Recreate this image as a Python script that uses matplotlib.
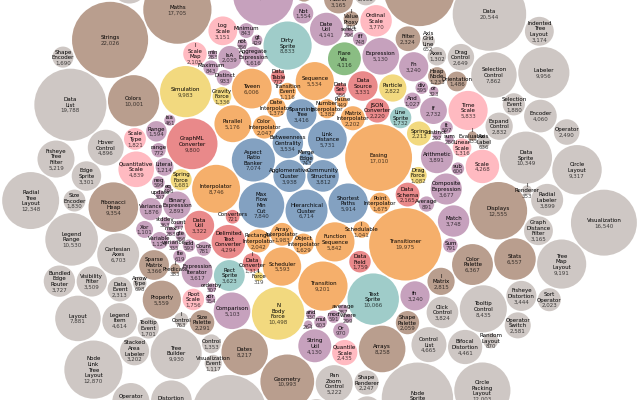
import math
import re

import matplotlib
matplotlib.use("Agg")
import matplotlib.pyplot as plt
from matplotlib.patches import Circle

ids = ["analytics.cluster.AgglomerativeCluster", "analytics.cluster.CommunityStructure", "analytics.cluster.HierarchicalCluster", "analytics.cluster.MergeEdge", "analytics.graph.BetweennessCentrality", "analytics.graph.LinkDistance", "analytics.graph.MaxFlowMinCut", "analytics.graph.ShortestPaths", "analytics.graph.SpanningTree", "analytics.optimization.AspectRatioBanker", "animate.Easing", "animate.FunctionSequence", "animate.interpolate.ArrayInterpolator", "animate.interpolate.ColorInterpolator", "animate.interpolate.DateInterpolator", "animate.interpolate.Interpolator", "animate.interpolate.MatrixInterpolator", "animate.interpolate.NumberInterpolator", "animate.interpolate.ObjectInterpolator", "animate.interpolate.PointInterpolator", "animate.interpolate.RectangleInterpolator", "animate.ISchedulable", "animate.Parallel", "animate.Pause", "animate.Scheduler", "animate.Sequence", "animate.Transition", "animate.Transitioner", "animate.TransitionEvent", "animate.Tween", "data.converters.Converters", "data.converters.DelimitedTextConverter", "data.converters.GraphMLConverter", "data.converters.IDataConverter", "data.converters.JSONConverter", "data.DataField", "data.DataSchema", "data.DataSet", "data.DataSource", "data.DataTable", "data.DataUtil", "display.DirtySprite", "display.LineSprite", "display.RectSprite", "display.TextSprite", "flex.FlareVis", "physics.DragForce", "physics.GravityForce", "physics.IForce", "physics.NBodyForce", "physics.Particle", "physics.Simulation", "physics.Spring", "physics.SpringForce", "query.AggregateExpression", "query.And", "query.Arithmetic", "query.Average", "query.BinaryExpression", "query.Comparison", "query.CompositeExpression", "query.Count", "query.DateUtil", "query.Distinct", "query.Expression", "query.ExpressionIterator", "query.Fn", "query.If", "query.IsA", "query.Literal", "query.Match", "query.Maximum", "query.methods.add", "query.methods.and", "query.methods.average", "query.methods.count", "query.methods.distinct", "query.methods.div", "query.methods.eq", "query.methods.fn", "query.methods.gt", "query.methods.gte", "query.methods.iff", "query.methods.isa", "query.methods.lt", "query.methods.lte", "query.methods.max", "query.methods.min", "query.methods.mod", "query.methods.mul", "query.methods.neq", "query.methods.not", "query.methods.or", "query.methods.orderby", "query.methods.range", "query.methods.select", "query.methods.stddev", "query.methods.sub", "query.methods.sum", "query.methods.update", "query.methods.variance", "query.methods.where", "query.methods.xor", "query.methods._", "query.Minimum", "query.Not", "query.Or", "query.Query", "query.Range", "query.StringUtil", "query.Sum", "query.Variable", "query.Variance", "query.Xor", "scale.IScaleMap", "scale.LinearScale", "scale.LogScale", "scale.OrdinalScale", "scale.QuantileScale", "scale.QuantitativeScale", "scale.RootScale", "scale.Scale", "scale.ScaleType", "scale.TimeScale", "util.Arrays", "util.Colors", "util.Dates", "util.Displays", "util.Filter", "util.Geometry", "util.heap.FibonacciHeap", "util.heap.HeapNode", "util.IEvaluable", "util.IPredicate", "util.IValueProxy", "util.math.DenseMatrix", "util.math.IMatrix", "util.math.SparseMatrix", "util.Maths", "util.Orientation", "util.palette.ColorPalette", "util.palette.Palette", "util.palette.ShapePalette", "util.palette.SizePalette", "util.Property", "util.Shapes", "util.Sort", "util.Stats", "util.Strings", "vis.axis.Axes", "vis.axis.Axis", "vis.axis.AxisGridLine", "vis.axis.AxisLabel", "vis.axis.CartesianAxes", "vis.controls.AnchorControl", "vis.controls.ClickControl", "vis.controls.Control", "vis.controls.ControlList", "vis.controls.DragControl", "vis.controls.ExpandControl", "vis.controls.HoverControl", "vis.controls.IControl", "vis.controls.PanZoomControl", "vis.controls.SelectionControl", "vis.controls.TooltipControl", "vis.data.Data", "vis.data.DataList", "vis.data.DataSprite", "vis.data.EdgeSprite", "vis.data.NodeSprite", "vis.data.render.ArrowType", "vis.data.render.EdgeRenderer", "vis.data.render.IRenderer", "vis.data.render.ShapeRenderer", "vis.data.ScaleBinding", "vis.data.Tree", "vis.data.TreeBuilder", "vis.events.DataEvent", "vis.events.SelectionEvent", "vis.events.TooltipEvent", "vis.events.VisualizationEvent", "vis.legend.Legend", "vis.legend.LegendItem", "vis.legend.LegendRange", "vis.operator.distortion.BifocalDistortion", "vis.operator.distortion.Distortion", "vis.operator.distortion.FisheyeDistortion", "vis.operator.encoder.ColorEncoder", "vis.operator.encoder.Encoder", "vis.operator.encoder.PropertyEncoder", "vis.operator.encoder.ShapeEncoder", "vis.operator.encoder.SizeEncoder", "vis.operator.filter.FisheyeTreeFilter", "vis.operator.filter.GraphDistanceFilter", "vis.operator.filter.VisibilityFilter", "vis.operator.IOperator", "vis.operator.label.Labeler", "vis.operator.label.RadialLabeler", "vis.operator.label.StackedAreaLabeler", "vis.operator.layout.AxisLayout", "vis.operator.layout.BundledEdgeRouter", "vis.operator.layout.CircleLayout", "vis.operator.layout.CirclePackingLayout", "vis.operator.layout.DendrogramLayout", "vis.operator.layout.ForceDirectedLayout", "vis.operator.layout.IcicleTreeLayout", "vis.operator.layout.IndentedTreeLayout", "vis.operator.layout.Layout", "vis.operator.layout.NodeLinkTreeLayout", "vis.operator.layout.PieLayout", "vis.operator.layout.RadialTreeLayout", "vis.operator.layout.RandomLayout", "vis.operator.layout.StackedAreaLayout", "vis.operator.layout.TreeMapLayout", "vis.operator.Operator", "vis.operator.OperatorList", "vis.operator.OperatorSequence", "vis.operator.OperatorSwitch", "vis.operator.SortOperator", "vis.Visualization"]

values = [3938, 3812, 6714, 743, 3534, 5731, 7840, 5914, 3416, 7074, 17010, 5842, 1983, 2047, 1375, 8746, 2202, 1382, 1629, 1675, 2042, 1041, 5176, 449, 5593, 5534, 9201, 19975, 1116, 6006, 721, 4294, 9800, 1314, 2220, 1759, 2165, 586, 3331, 772, 3322, 8833, 1732, 3623, 10066, 4116, 1082, 1336, 319, 10498, 2822, 9983, 2213, 1681, 1616, 1027, 3891, 891, 2893, 5103, 3677, 781, 4141, 933, 5130, 3617, 3240, 2732, 2039, 1214, 3748, 843, 593, 330, 287, 277, 292, 595, 198, 3240, 429, 386, 748, 461, 597, 619, 283, 283, 591, 603, 599, 386, 323, 307, 772, 296, 363, 600, 280, 307, 335, 299, 354, 264, 843, 1554, 970, 13896, 1594, 4130, 791, 1124, 1876, 1101, 2105, 1316, 3151, 3770, 2435, 4839, 1756, 4268, 1821, 5833, 8258, 10001, 8217, 12555, 2324, 10993, 9354, 1233, 335, 383, 874, 3165, 2815, 3366, 17705, 1486, 6367, 1229, 2059, 2291, 5559, 19118, 6887, 6557, 22026, 1302, 24593, 652, 636, 6703, 2138, 3824, 1353, 4665, 2649, 2832, 4896, 763, 5222, 7862, 8435, 20544, 19788, 10349, 3301, 19382, 698, 5569, 353, 2247, 11275, 7147, 9930, 2313, 1880, 1701, 1117, 20859, 4614, 10530, 4461, 6314, 3444, 3179, 4060, 4138, 1690, 1830, 5219, 3165, 3509, 1286, 9956, 3899, 3202, 6725, 3727, 9317, 12003, 4853, 8411, 4864, 3174, 7881, 12870, 2728, 12348, 870, 9121, 9191, 2490, 5248, 4190, 2581, 2023, 16540]

palette = ["#4e79a7", "#f28e2c", "#e15759", "#76b7b2", "#59a14f",
           "#edc949", "#af7aa1", "#ff9da7", "#9c755f", "#bab0ab"]

SIZE = 1150       # pack size of the 1152px square chart (1px margin)
PADDING = 2.964   # gap between circles, chart px
FS = 10           # label size, chart px


class Circ:
    def __init__(self, r):
        self.x = 0.0
        self.y = 0.0
        self.r = r


class Node:
    def __init__(self, c):
        self.c = c
        self.next = None
        self.prev = None


def place(b, a, c):
    dx = b.x - a.x
    dy = b.y - a.y
    d2 = dx * dx + dy * dy
    a2 = a.r + c.r
    a2 *= a2
    b2 = b.r + c.r
    b2 *= b2
    if a2 > b2:
        x = (d2 + b2 - a2) / (2 * d2)
        y = math.sqrt(max(0, b2 / d2 - x * x))
        c.x = b.x - x * dx - y * dy
        c.y = b.y - x * dy + y * dx
    else:
        x = (d2 + a2 - b2) / (2 * d2)
        y = math.sqrt(max(0, a2 / d2 - x * x))
        c.x = a.x + x * dx - y * dy
        c.y = a.y + x * dy + y * dx


def intersects(a, b):
    dr = a.r + b.r - 1e-6
    dx = b.x - a.x
    dy = b.y - a.y
    return dr > 0 and dr * dr > dx * dx + dy * dy


def score(node):
    a = node.c
    b = node.next.c
    ab = a.r + b.r
    dx = (a.x * b.r + b.x * a.r) / ab
    dy = (a.y * b.r + b.y * a.r) / ab
    return dx * dx + dy * dy


def encloses_not(a, b):
    dr = a.r - b.r
    dx = b.x - a.x
    dy = b.y - a.y
    return dr < 0 or dr * dr < dx * dx + dy * dy


def encloses_weak(a, b):
    dr = a.r - b.r + max(a.r, b.r, 1) * 1e-9
    dx = b.x - a.x
    dy = b.y - a.y
    return dr > 0 and dr * dr > dx * dx + dy * dy


def basis2(a, b):
    x21, y21, r21 = b.x - a.x, b.y - a.y, b.r - a.r
    l = math.sqrt(x21 * x21 + y21 * y21)
    e = Circ((l + a.r + b.r) / 2)
    e.x = (a.x + b.x + x21 / l * r21) / 2
    e.y = (a.y + b.y + y21 / l * r21) / 2
    return e


def basis3(a, b, c):
    x1, y1, r1 = a.x, a.y, a.r
    x2, y2, r2 = b.x, b.y, b.r
    x3, y3, r3 = c.x, c.y, c.r
    a2, a3 = x1 - x2, x1 - x3
    b2, b3 = y1 - y2, y1 - y3
    c2, c3 = r2 - r1, r3 - r1
    d1 = x1 * x1 + y1 * y1 - r1 * r1
    d2 = d1 - x2 * x2 - y2 * y2 + r2 * r2
    d3 = d1 - x3 * x3 - y3 * y3 + r3 * r3
    ab = a3 * b2 - a2 * b3
    xa = (b2 * d3 - b3 * d2) / (ab * 2) - x1
    xb = (b3 * c2 - b2 * c3) / ab
    ya = (a3 * d2 - a2 * d3) / (ab * 2) - y1
    yb = (a2 * c3 - a3 * c2) / ab
    A = xb * xb + yb * yb - 1
    B = 2 * (r1 + xa * xb + ya * yb)
    C = xa * xa + ya * ya - r1 * r1
    r = -((B + math.sqrt(B * B - 4 * A * C)) / (2 * A) if abs(A) > 1e-6 else C / B)
    e = Circ(r)
    e.x = x1 + xa + xb * r
    e.y = y1 + ya + yb * r
    return e


def basis(B):
    if len(B) == 1:
        e = Circ(B[0].r)
        e.x, e.y = B[0].x, B[0].y
        return e
    if len(B) == 2:
        return basis2(B[0], B[1])
    return basis3(B[0], B[1], B[2])


def extend_basis(B, p):
    if all(encloses_weak(p, b) for b in B):
        return [p]
    for i in range(len(B)):
        if encloses_not(p, B[i]) and all(encloses_weak(basis2(B[i], p), b) for b in B):
            return [B[i], p]
    for i in range(len(B) - 1):
        for j in range(i + 1, len(B)):
            if (encloses_not(basis2(B[i], B[j]), p)
                    and encloses_not(basis2(B[i], p), B[j])
                    and encloses_not(basis2(B[j], p), B[i])
                    and all(encloses_weak(basis3(B[i], B[j], p), b) for b in B)):
                return [B[i], B[j], p]
    raise RuntimeError("enclose failed")


def enclose(circles):
    i, B, e = 0, [], None
    while i < len(circles):
        p = circles[i]
        if e is not None and encloses_weak(e, p):
            i += 1
        else:
            B = extend_basis(B, p)
            e = basis(B)
            i = 0
    return e


def pack_siblings(circles):
    # front-chain circle packing (same steps as d3.packSiblings)
    n = len(circles)
    a = circles[0]
    b = circles[1]
    a.x, a.y = -b.r, 0.0
    b.x, b.y = a.r, 0.0
    c = circles[2]
    place(b, a, c)
    a, b, c = Node(a), Node(b), Node(c)
    a.next = c.prev = b
    b.next = a.prev = c
    c.next = b.prev = a
    i = 3
    while i < n:
        place(a.c, b.c, circles[i])
        c = Node(circles[i])
        j, k = b.next, a.prev
        sj, sk = b.c.r, a.c.r
        retry = False
        while True:
            if sj <= sk:
                if intersects(j.c, c.c):
                    b = j
                    a.next, b.prev = b, a
                    retry = True
                    break
                sj += j.c.r
                j = j.next
            else:
                if intersects(k.c, c.c):
                    a = k
                    a.next, b.prev = b, a
                    retry = True
                    break
                sk += k.c.r
                k = k.prev
            if j is k.next:
                break
        if retry:
            continue
        c.prev, c.next = a, b
        b.prev = c
        a.next = c
        b = c
        aa = score(a)
        c = c.next
        while c is not b:
            ca = score(c)
            if ca < aa:
                a, aa = c, ca
            c = c.next
        b = a.next
        i += 1
    chain = [b.c]
    c = b.next
    while c is not b:
        chain.append(c.c)
        c = c.next
    e = enclose(chain)
    for cc in circles:
        cc.x -= e.x
        cc.y -= e.y
    return e.r


def pack(vals, size, padding):
    circles = [Circ(math.sqrt(v)) for v in vals]
    r1 = pack_siblings(circles)
    pad = padding * r1 / size
    for c in circles:
        c.r += pad
    r2 = pack_siblings(circles) + pad
    for c in circles:
        c.r -= pad
    k = size / (2 * r2)
    for c in circles:
        c.x = size / 2 + c.x * k
        c.y = size / 2 + c.y * k
        c.r *= k
    return circles


def label_lines(full_id, value):
    # "AggregateExpression" -> ["Aggregate", "Expression", "1,616"]
    name = full_id.split(".")[-1]
    parts = [p for p in re.split(r"(?=[A-Z][a-z])", name) if p]
    return parts + [f"{value:,}"]


circles = pack(values, SIZE, PADDING)

groups = []
for i in ids:
    g = i.split(".")[0]
    if g not in groups:
        groups.append(g)
color_of = {g: palette[n] for n, g in enumerate(groups)}

fig = plt.figure(figsize=(6.4, 4.0), dpi=100)
ax = fig.add_axes([0, 0, 1, 1])
# full chart width, middle band of its height
ax.set_xlim(-1, 1151)
ax.set_ylim(936, 216)
ax.axis("off")

fs_pt = FS * (640 / 1152) * 0.72

for cid, v, c in zip(ids, values, circles):
    circ = Circle((c.x, c.y), c.r, facecolor=color_of[cid.split(".")[0]],
                  alpha=0.7, edgecolor="none")
    ax.add_patch(circ)
    lines = label_lines(cid, v)
    n = len(lines)
    for li, txt in enumerate(lines):
        t = ax.text(c.x, c.y + (li - n / 2 + 0.85) * FS, txt,
                    ha="center", va="baseline", fontsize=fs_pt,
                    family="DejaVu Sans", color="black",
                    alpha=0.7 if li == n - 1 else 1.0)
        t.set_clip_path(circ)

fig.savefig("out.png", dpi=100)
